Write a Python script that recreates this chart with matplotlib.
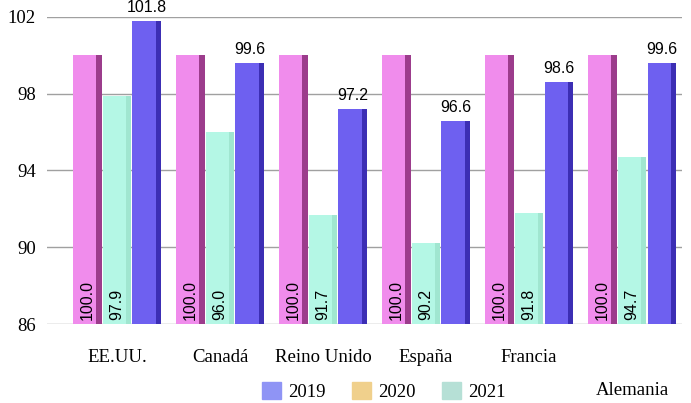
import numpy as np
import matplotlib.pyplot as plt

# figure data
countries = ["EE.UU.", "Canadá", "Reino Unido", "España", "Francia", "Alemania"]
pink_vals = [100.0, 100.0, 100.0, 100.0, 100.0, 100.0]
teal_vals = [97.9, 96.0, 91.7, 90.2, 91.8, 94.7]
blue_vals = [101.8, 99.6, 97.2, 96.6, 98.6, 99.6]
legend_labels = ["2019", "2020", "2021"]
legend_colors = ["#8f94f5", "#f0d08c", "#b6e0d6"]
yticks = [86, 90, 94, 98, 102]

serif = "Liberation Serif"
sans = "Liberation Sans"

fig = plt.figure(figsize=(6.91, 4.03), dpi=100)
ax = fig.add_axes([0.068, 0.196, 0.919, 0.762])

x = np.arange(len(countries))
w = 0.28
side = 0.055
base = 86

series = [
    (pink_vals, -0.29, "#f08cec", "#9c3c8c"),
    (teal_vals, 0.0, "#b4f7e5", "#a0e6d0"),
    (blue_vals, 0.29, "#6e60f0", "#3c2eb4"),
]
for vals, off, face, dark in series:
    h = np.array(vals) - base
    ax.bar(x + off, h, width=w, bottom=base, color=face, zorder=3)
    ax.bar(x + off + w / 2 - side / 2, h, width=side, bottom=base, color=dark, zorder=3)

# value labels
for i in range(len(countries)):
    ax.text(x[i] - 0.29, base + 0.2, f"{pink_vals[i]:.1f}", rotation=90, ha="center", va="bottom",
            fontsize=11.5, family=sans, zorder=4)
    ax.text(x[i], base + 0.2, f"{teal_vals[i]:.1f}", rotation=90, ha="center", va="bottom",
            fontsize=11.5, family=sans, zorder=4)
    ax.text(x[i] + 0.29, blue_vals[i] + 0.3, f"{blue_vals[i]:.1f}", ha="center", va="bottom",
            fontsize=11.5, family=sans, zorder=4)

ax.set_ylim(86, 102)
ax.set_xlim(-0.68, 5.485)
ax.set_yticks(yticks)
ax.set_yticklabels([str(t) for t in yticks], fontsize=13.5, family=serif)
ax.set_xticks(x[:5])
ax.set_xticklabels(countries[:5], fontsize=13.5, family=serif)
ax.tick_params(length=0, pad=8)
ax.tick_params(axis="x", pad=18)
ax.text(x[5], -0.19, countries[5], transform=ax.get_xaxis_transform(), ha="center", va="top",
        fontsize=13.5, family=serif)

ax.yaxis.grid(True, color="#a0a0a0", linewidth=1)
ax.set_axisbelow(True)
for s in ax.spines.values():
    s.set_visible(False)

handles = [plt.Rectangle((0, 0), 1, 1, color=c) for c in legend_colors]
fig.legend(handles, legend_labels, loc="center", bbox_to_anchor=(0.556, 0.028), ncol=3, frameon=False,
           prop={"family": serif, "size": 13.5}, handlelength=1.0, handleheight=1.0,
           handletextpad=0.4, columnspacing=1.4)

plt.savefig("out.png", dpi=100)
